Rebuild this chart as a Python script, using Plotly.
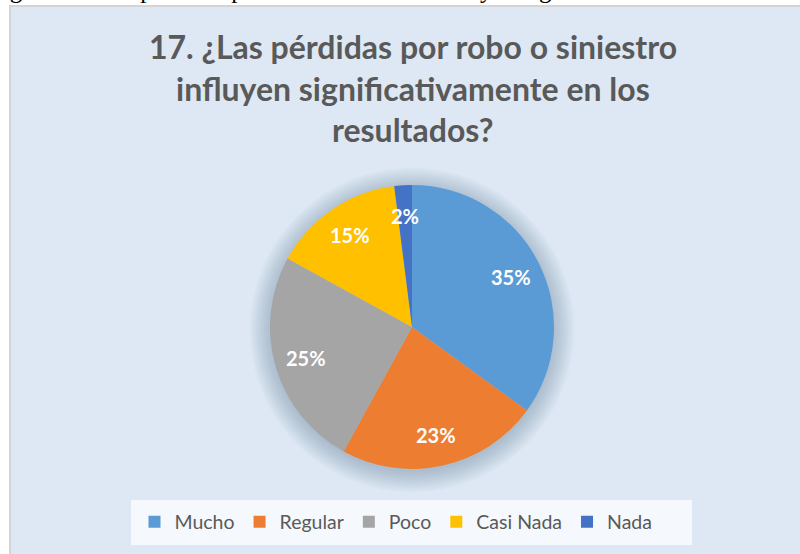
import math
import plotly.graph_objects as go

W, H = 800, 554

categorias = ["Mucho", "Regular", "Poco", "Casi Nada", "Nada"]
valores = [35, 23, 25, 15, 2]
colores = ["#5B9BD5", "#ED7D31", "#A5A5A5", "#FFC000", "#4472C4"]

titulo = ["17. ¿Las pérdidas por robo o siniestro",
          "influyen significativamente en los",
          "resultados?"]
leyenda_pie = "Figura 17. Las pérdidas por robo o siniestro influyen significativamente en los resultados"

# pie geometry (pixels)
CX, CY, R = 412, 327, 142


def px(x):
    return x / W


def py(y):
    return 1 - y / H


fig = go.Figure()

fig.add_trace(go.Pie(
    labels=categorias,
    values=valores,
    sort=False,
    direction="clockwise",
    rotation=0,
    marker=dict(colors=colores, line=dict(width=0)),
    textinfo="none",
    domain=dict(x=[px(CX - R), px(CX + R)], y=[py(CY + R), py(CY - R)]),
    hoverinfo="label+percent",
))

shapes = [
    # chart panel
    dict(type="rect", xref="paper", yref="paper", x0=px(10), x1=px(810), y0=py(564), y1=py(6),
         fillcolor="#DDE8F4", line=dict(color="#D4D4D4", width=2), layer="below"),
    # legend box
    dict(type="rect", xref="paper", yref="paper", x0=px(131), x1=px(692), y0=py(545), y1=py(500),
         fillcolor="#F5F9FD", line=dict(width=0), layer="below"),
]
# soft shadow around the pie
for r in range(162, 141, -2):
    shapes.append(dict(type="circle", xref="paper", yref="paper",
                       x0=px(CX - r), x1=px(CX + r), y0=py(CY + 3 + r), y1=py(CY + 3 - r),
                       fillcolor="rgba(80,100,130,0.035)", line=dict(width=0), layer="below"))

annotations = [dict(text=leyenda_pie, xref="paper", yref="paper", x=px(-13), y=py(-10),
                    xanchor="left", yanchor="middle", showarrow=False,
                    font=dict(family="Liberation Serif", size=25, color="black"))]
for i, linea in enumerate(titulo):
    annotations.append(dict(text="<b>%s</b>" % linea, xref="paper", yref="paper",
                            x=px(413), y=py(47 + 41 * i), xanchor="center", yanchor="middle",
                            showarrow=False,
                            font=dict(family="Lato", size=32, color="#595959")))

# data labels, placed at each slice's middle angle
total = sum(valores)
acum = 0
for v in valores:
    ang = 2 * math.pi * (acum + v / 2) / total
    acum += v
    lx = CX + 0.78 * R * math.sin(ang)
    ly = CY - 0.78 * R * math.cos(ang)
    annotations.append(dict(text="<b>%d%%</b>" % round(100 * v / total), xref="paper", yref="paper",
                            x=px(lx), y=py(ly), xanchor="center", yanchor="middle", showarrow=False,
                            font=dict(family="Lato", size=20, color="white")))

fig.update_layout(
    width=W, height=H,
    margin=dict(l=0, r=0, t=0, b=0),
    paper_bgcolor="white",
    plot_bgcolor="white",
    shapes=shapes,
    annotations=annotations,
    showlegend=True,
    legend=dict(orientation="h", x=px(396), xanchor="center", y=py(522), yanchor="middle",
                bgcolor="rgba(0,0,0,0)", font=dict(family="Lato", size=19.5, color="#595959"),
                itemsizing="constant"),
)

fig.write_html("out.html", config={"displayModeBar": False},
               post_script="document.body.style.margin='0';")
